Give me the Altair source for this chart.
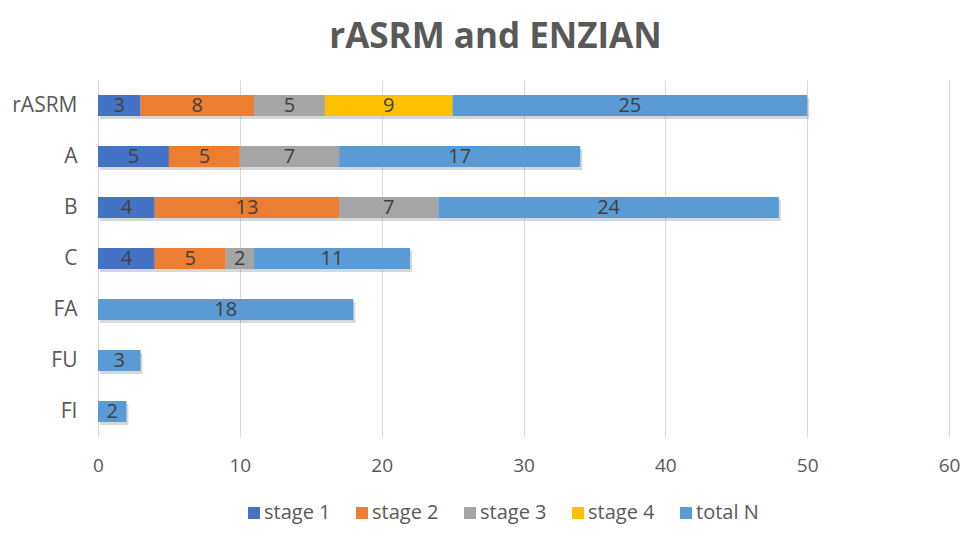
import altair as alt
import pandas as pd

categories = ["rASRM", "A", "B", "C", "FA", "FU", "FI"]
series = ["stage 1", "stage 2", "stage 3", "stage 4", "total N"]
stage1 = [3, 5, 4, 4, 0, 0, 0]
stage2 = [8, 5, 13, 5, 0, 0, 0]
stage3 = [5, 7, 7, 2, 0, 0, 0]
stage4 = [9, 0, 0, 0, 0, 0, 0]
totalN = [25, 17, 24, 11, 18, 3, 2]
colors = ["#4472C4", "#ED7D31", "#A5A5A5", "#FFC000", "#5B9BD5"]

rows = []
for i, c in enumerate(categories):
    for j, (s, vals) in enumerate(zip(series, [stage1, stage2, stage3, stage4, totalN])):
        if vals[i] > 0:
            rows.append({"cat": c, "series": s, "order": j, "value": vals[i]})
df = pd.DataFrame(rows)

font = "Open Sans"

base = alt.Chart(df).transform_stack(
    stack="value", as_=["x0", "x1"], groupby=["cat"],
    sort=[alt.SortField("order", order="ascending")]
).transform_calculate(mid="(datum.x0 + datum.x1) / 2")

yenc = alt.Y("cat:N", sort=categories, title=None,
             scale=alt.Scale(paddingInner=0, paddingOuter=0),
             axis=alt.Axis(domain=False, ticks=False, grid=False, labelFontSize=21,
                           labelColor="#595959", labelPadding=21, labelFont=font))
xscale = alt.Scale(domain=[0, 60])

shadow = base.transform_aggregate(tot="max(x1)", groupby=["cat"]).mark_bar(
    size=21, color="#606060", opacity=0.25, xOffset=2, yOffset=3
).encode(
    x=alt.X("tot:Q", scale=xscale, title=None),
    y=yenc,
)

bars = base.mark_bar(size=21).encode(
    x=alt.X("x0:Q", scale=xscale, title=None,
            axis=alt.Axis(values=[0, 10, 20, 30, 40, 50, 60], grid=True, gridColor="#D9D9D9",
                          domain=False, ticks=False, labelFontSize=19, labelColor="#595959",
                          labelPadding=19, labelFont=font, labelFlush=False)),
    x2="x1:Q",
    y=yenc,
    color=alt.Color("series:N", scale=alt.Scale(domain=series, range=colors), title=None,
                    legend=alt.Legend(orient="none", legendX=146, legendY=423, direction="horizontal",
                                      symbolType="square", symbolSize=144, symbolStrokeWidth=0,
                                      labelFontSize=20, labelColor="#595959", labelFont=font,
                                      columnPadding=21, labelOffset=0)),
)

labels = base.mark_text(fontSize=20, color="#404040", font=font, baseline="middle").encode(
    x=alt.X("mid:Q", scale=xscale),
    y=yenc,
    text="value:Q",
)

chart = alt.layer(shadow, bars, labels).properties(
    width=851, height=357,
    title=alt.TitleParams("rASRM and ENZIAN", fontSize=35, fontWeight="bold", color="#595959",
                          font=font, anchor="middle", dx=-28, offset=25),
    autosize=alt.AutoSizeParams(type="none"),
    padding={"left": 90, "top": 72, "right": 11, "bottom": 87},
).configure_view(stroke=None)

chart.save("out.html", embed_options={"renderer": "svg", "actions": False})
